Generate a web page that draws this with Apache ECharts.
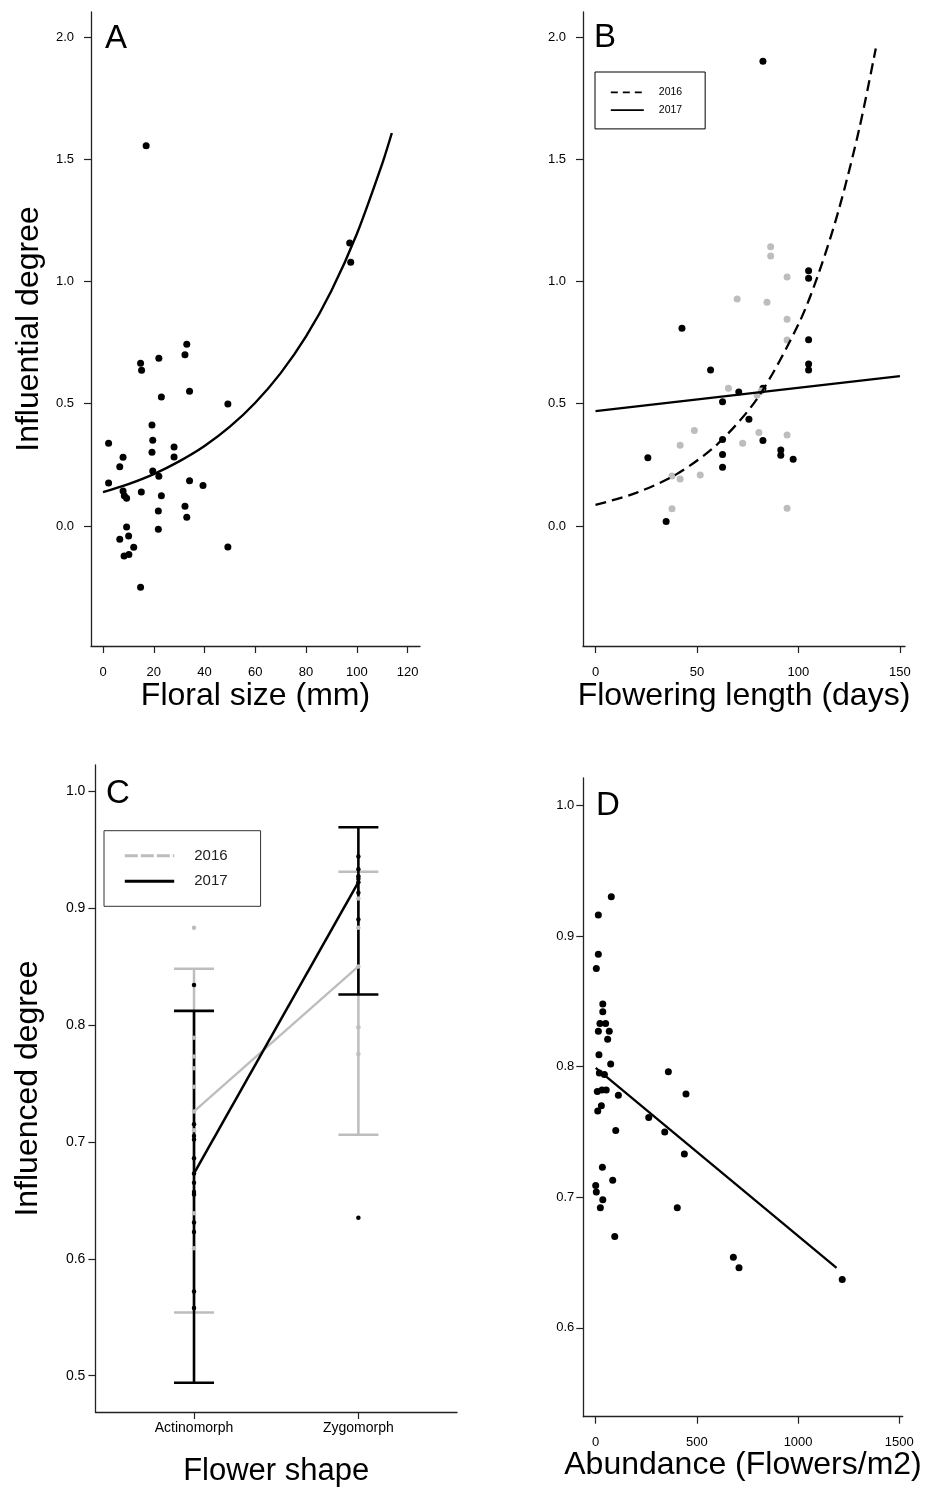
<!DOCTYPE html>
<html>
<head>
<meta charset="utf-8">
<script src="https://cdn.jsdelivr.net/npm/echarts@6/dist/echarts.min.js"></script>
<style>
  html, body { margin: 0; padding: 0; background: #fff; }
  #chart { width: 940px; height: 1488px; }
</style>
</head>
<body>
<div id="chart"></div>
<script>
// ---------- Panel A: influential degree vs floral size ----------
const floralSizePoints = [
  [33.0, 0.743], [32.3, 0.700], [14.8, 0.665], [15.2, 0.637], [22.0, 0.686],
  [34.1, 0.551], [23.0, 0.527], [49.2, 0.499], [19.3, 0.413], [2.2, 0.338],
  [19.6, 0.350], [19.3, 0.301], [28.0, 0.323], [28.0, 0.282], [7.9, 0.281],
  [6.6, 0.242], [19.6, 0.225], [22.0, 0.203], [2.2, 0.176], [34.1, 0.185],
  [39.4, 0.165], [7.9, 0.143], [8.4, 0.124], [9.3, 0.113], [15.1, 0.139],
  [23.0, 0.124], [21.8, 0.061], [32.3, 0.081], [33.0, 0.036], [9.3, -0.004],
  [21.8, -0.013], [6.6, -0.054], [10.1, -0.041], [12.1, -0.087], [8.3, -0.123],
  [10.2, -0.117], [49.2, -0.086], [14.8, -0.251], [17.0, 1.555], [97.2, 1.157],
  [97.6, 1.079]
];
const floralSizeFit = [
  [0, 0.138], [10, 0.171], [20, 0.212], [30, 0.264], [40, 0.327], [50, 0.406],
  [60, 0.504], [70, 0.625], [80, 0.775], [90, 0.962], [100, 1.194], [110, 1.481],
  [113.8, 1.607]
];

// ---------- Panel B: influential degree vs flowering length ----------
const flowering2016 = [
  [86.3, 1.142], [86.3, 1.104], [94.4, 1.018], [69.8, 0.928], [84.5, 0.915],
  [94.4, 0.845], [94.4, 0.760], [65.5, 0.563], [79.6, 0.536], [81.7, 0.552],
  [48.7, 0.390], [41.7, 0.330], [80.5, 0.382], [72.5, 0.338], [94.4, 0.372],
  [37.7, 0.204], [41.7, 0.192], [51.6, 0.208], [37.7, 0.070], [94.4, 0.072]
];
const flowering2017 = [
  [42.6, 0.809], [56.7, 0.638], [70.6, 0.548], [62.6, 0.508], [82.5, 0.563],
  [75.6, 0.436], [62.6, 0.354], [82.5, 0.349], [62.6, 0.292], [62.6, 0.240],
  [91.3, 0.311], [91.3, 0.289], [97.4, 0.273], [25.8, 0.279], [34.8, 0.018],
  [105.0, 0.762], [105.0, 0.662], [105.0, 0.638], [82.5, 1.901], [105.0, 1.044],
  [105.0, 1.013]
];
const floweringFit2016 = [
  [0, 0.086], [20, 0.135], [40, 0.212], [60, 0.334], [80, 0.525], [100, 0.825],
  [110, 1.034], [120, 1.297], [130, 1.626], [138.1, 1.953]
];
const floweringFit2017 = [[0, 0.470], [150, 0.613]];

// ---------- Panel C: influenced degree by flower shape ----------
const shapeCategories = ['Actinomorph', 'Zygomorph'];
const actino2016 = [0.883, 0.789, 0.773, 0.763, 0.747, 0.726, 0.710, 0.639, 0.609];
const actino2017 = [0.834, 0.715, 0.705, 0.702, 0.686, 0.673, 0.665, 0.657, 0.655, 0.631, 0.623, 0.572, 0.558];
const zygo2016 = [0.908, 0.883, 0.850, 0.798, 0.775];
const zygo2017 = [0.944, 0.933, 0.927, 0.925, 0.922, 0.913, 0.890, 0.635];
const shapeMean2016 = [0.726, 0.850];
const shapeMean2017 = [0.673, 0.922];
const shapeLow2016 = [0.554, 0.706];
const shapeHigh2016 = [0.848, 0.931];
const shapeLow2017 = [0.494, 0.826];
const shapeHigh2017 = [0.812, 0.969];

// ---------- Panel D: influenced degree vs abundance ----------
const abundancePoints = [
  [77, 0.930], [13, 0.916], [13, 0.886], [3, 0.875], [35, 0.848], [35, 0.842],
  [21, 0.833], [49, 0.833], [13, 0.827], [67, 0.827], [59, 0.821], [16, 0.809],
  [74, 0.802], [359, 0.796], [18, 0.795], [43, 0.794], [8, 0.781], [31, 0.782],
  [52, 0.782], [112, 0.778], [446, 0.779], [28, 0.770], [10, 0.766], [262, 0.761],
  [99, 0.751], [341, 0.750], [438, 0.733], [33, 0.723], [84, 0.713], [0, 0.709],
  [3, 0.704], [35, 0.698], [23, 0.692], [403, 0.692], [94, 0.670], [680, 0.654],
  [708, 0.646], [1218, 0.637]
];
const abundanceFit = [[0, 0.799], [1190, 0.646]];

// ---------- Tick labels ----------
const ticksInfluential = [0, 0.5, 1.0, 1.5, 2.0];
const ticksFloralSize = [0, 20, 40, 60, 80, 100, 120];
const ticksFlowering = [0, 50, 100, 150];
const ticksShape = [1, 2];
const ticksInfluenced = [0.5, 0.6, 0.7, 0.8, 0.9, 1.0];
const ticksAbundance = [0, 500, 1000, 1500];

const FONT = '"Liberation Sans", Arial, Helvetica, sans-serif';
const AXIS_COLOR = '#222';
const GREY = '#bdbdbd';

function axis(o) {
  return {
    type: 'value',
    gridIndex: o.grid,
    min: o.min,
    max: o.max,
    name: o.name,
    nameLocation: 'middle',
    nameGap: o.nameGap,
    nameTextStyle: { fontSize: o.nameSize || 32, color: '#000', fontFamily: FONT },
    axisLine: { show: true, onZero: false, lineStyle: { color: AXIS_COLOR, width: 1.3 } },
    axisTick: {
      show: true, inside: false, length: o.tickLen || 7, customValues: o.ticks,
      lineStyle: { color: AXIS_COLOR, width: 1.2 }
    },
    axisLabel: {
      customValues: o.ticks, formatter: o.fmt, fontSize: o.labelSize || 13,
      color: '#000', margin: o.labelMargin, fontFamily: FONT
    },
    splitLine: { show: false }
  };
}

const oneDecimal = v => Number(v).toFixed(1);
const plain = v => String(Math.round(v));

function errorBars(name, lows, highs, color, width) {
  return {
    type: 'custom',
    name: name,
    xAxisIndex: 2,
    yAxisIndex: 2,
    silent: true,
    data: shapeCategories.map((c, i) => [i + 1, lows[i], highs[i]]),
    encode: { x: 0, y: [1, 2] },
    renderItem: function (params, api) {
      const x = api.value(0);
      const lo = api.coord([x, api.value(1)]);
      const hi = api.coord([x, api.value(2)]);
      const hw = 20;
      const style = { stroke: color, lineWidth: width };
      return {
        type: 'group',
        children: [
          { type: 'line', shape: { x1: lo[0], y1: lo[1], x2: hi[0], y2: hi[1] }, style: style },
          { type: 'line', shape: { x1: lo[0] - hw, y1: lo[1], x2: lo[0] + hw, y2: lo[1] }, style: style },
          { type: 'line', shape: { x1: hi[0] - hw, y1: hi[1], x2: hi[0] + hw, y2: hi[1] }, style: style }
        ]
      };
    }
  };
}

function shapePoints(actino, zygo) {
  return actino.map(v => [1, v]).concat(zygo.map(v => [2, v]));
}

function dots(name, xi, data, size, color) {
  return {
    type: 'scatter', name: name, xAxisIndex: xi, yAxisIndex: xi, data: data,
    symbolSize: size, itemStyle: { color: color, opacity: 1 }, silent: true
  };
}

const chart = echarts.init(document.getElementById('chart'), null, { renderer: 'canvas' });

const option = {
  animation: false,
  backgroundColor: '#fff',
  textStyle: { fontFamily: FONT },
  grid: [
    { left: 91, top: 12, width: 329, height: 634 },
    { left: 583, top: 12, width: 322, height: 634 },
    { left: 95.4, top: 765, width: 361.6, height: 647.3 },
    { left: 583.3, top: 778, width: 319.4, height: 638.7 }
  ],
  xAxis: [
    axis({ grid: 0, min: -4.73, max: 124.9, ticks: ticksFloralSize, fmt: plain,
           name: 'Floral size (mm)', nameGap: 34, labelMargin: 20 }),
    axis({ grid: 1, min: -6.16, max: 152.5, ticks: ticksFlowering, fmt: plain,
           name: 'Flowering length (days)', nameGap: 34, labelMargin: 20 }),
    axis({ grid: 2, min: 0.4, max: 2.6, ticks: ticksShape,
           fmt: v => shapeCategories[Math.round(v) - 1],
           name: 'Flower shape', nameGap: 44, nameSize: 31, labelSize: 14, labelMargin: 9 }),
    axis({ grid: 3, min: -61.3, max: 1516.8, ticks: ticksAbundance, fmt: plain,
           name: 'Abundance (Flowers/m2)', nameGap: 32, labelMargin: 19 })
  ],
  yAxis: [
    axis({ grid: 0, min: -0.491, max: 2.102, ticks: ticksInfluential, fmt: oneDecimal,
           name: 'Influential degree', nameGap: 46, labelMargin: 17 }),
    axis({ grid: 1, min: -0.491, max: 2.102, ticks: ticksInfluential, fmt: oneDecimal,
           name: '', nameGap: 50, labelMargin: 17 }),
    axis({ grid: 2, min: 0.469, max: 1.0222, ticks: ticksInfluenced, fmt: oneDecimal,
           name: 'Influenced degree', nameGap: 51, labelSize: 14, labelMargin: 10 }),
    axis({ grid: 3, min: 0.532, max: 1.0209, ticks: ticksInfluenced.slice(1), fmt: oneDecimal,
           name: '', nameGap: 50, labelMargin: 9 })
  ],
  legend: [
    {
      orient: 'vertical', left: 595, top: 72,
      padding: [14.8, 23, 13.2, 15],
      itemWidth: 33, itemHeight: 14, itemGap: 6.5,
      borderColor: '#000', borderWidth: 1,
      selectedMode: false,
      itemStyle: { opacity: 0 },
      data: [
        { name: '2016', lineStyle: { type: [7, 5], width: 1.6 } },
        { name: '2017', lineStyle: { width: 1.6 } }
      ],
      textStyle: { fontSize: 10.5, color: '#000', fontFamily: FONT, padding: [0, 0, 0, 10] }
    },
    {
      orient: 'vertical', left: 104, top: 830.7,
      padding: [17.6, 33, 17.6, 19.3],
      itemWidth: 49.4, itemHeight: 14, itemGap: 10.4,
      borderColor: '#333', borderWidth: 1,
      selectedMode: false,
      itemStyle: { opacity: 0 },
      data: [
        { name: 'C 2016', lineStyle: { type: [13, 3], width: 3 } },
        { name: 'C 2017', lineStyle: { width: 3 } }
      ],
      formatter: name => name.replace('C ', ''),
      textStyle: { fontSize: 15, color: '#222', fontFamily: FONT, padding: [0, 0, 0, 15] }
    }
  ],
  graphic: [
    { type: 'text', x: 105, y: 39, style: { text: 'A', fontSize: 33, fontFamily: FONT, fill: '#000', verticalAlign: 'middle' } },
    { type: 'text', x: 594, y: 38, style: { text: 'B', fontSize: 33, fontFamily: FONT, fill: '#000', verticalAlign: 'middle' } },
    { type: 'text', x: 106, y: 794, style: { text: 'C', fontSize: 33, fontFamily: FONT, fill: '#000', verticalAlign: 'middle' } },
    { type: 'text', x: 596, y: 806, style: { text: 'D', fontSize: 33, fontFamily: FONT, fill: '#000', verticalAlign: 'middle' } }
  ],
  series: [
    // A
    { type: 'line', name: 'A fit', xAxisIndex: 0, yAxisIndex: 0, data: floralSizeFit,
      smooth: 0.3, symbol: 'none', itemStyle: { color: '#000' },
      lineStyle: { color: '#000', width: 2.4 }, silent: true },
    dots('A points', 0, floralSizePoints, 7, '#000'),
    // B
    { type: 'line', name: '2016', xAxisIndex: 1, yAxisIndex: 1, data: floweringFit2016,
      smooth: 0.3, symbol: 'none', itemStyle: { color: '#000' },
      lineStyle: { color: '#000', width: 2.3, type: [11, 6] }, silent: true },
    { type: 'line', name: '2017', xAxisIndex: 1, yAxisIndex: 1, data: floweringFit2017,
      symbol: 'none', itemStyle: { color: '#000' },
      lineStyle: { color: '#000', width: 2.3 }, silent: true },
    dots('B 2017 points', 1, flowering2017, 7, '#000'),
    dots('B 2016 points', 1, flowering2016, 7, GREY),
    // C
    errorBars('C 2016 range', shapeLow2016, shapeHigh2016, GREY, 2.5),
    errorBars('C 2017 range', shapeLow2017, shapeHigh2017, '#000', 2.6),
    { type: 'line', name: 'C 2016', xAxisIndex: 2, yAxisIndex: 2,
      data: shapeMean2016.map((v, i) => [i + 1, v]),
      symbol: 'none', itemStyle: { color: GREY },
      lineStyle: { color: GREY, width: 2.3 }, silent: true },
    { type: 'line', name: 'C 2017', xAxisIndex: 2, yAxisIndex: 2,
      data: shapeMean2017.map((v, i) => [i + 1, v]),
      symbol: 'none', itemStyle: { color: '#000' },
      lineStyle: { color: '#000', width: 2.5 }, silent: true },
    dots('C 2016 points', 2, shapePoints(actino2016, zygo2016), 4.5, GREY),
    dots('C 2017 points', 2, shapePoints(actino2017, zygo2017), 4.5, '#000'),
    // D
    { type: 'line', name: 'D fit', xAxisIndex: 3, yAxisIndex: 3, data: abundanceFit,
      symbol: 'none', itemStyle: { color: '#000' },
      lineStyle: { color: '#000', width: 2.3 }, silent: true },
    dots('D points', 3, abundancePoints, 7, '#000')
  ]
};

chart.setOption(option);
</script>
</body>
</html>
